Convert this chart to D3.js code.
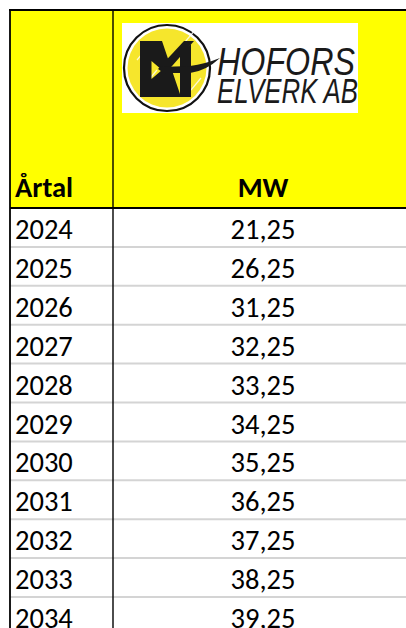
<!DOCTYPE html>
<html>
<head>
<meta charset="utf-8">
<script src="https://cdn.jsdelivr.net/npm/d3@7"></script>
<style>
  html, body { margin: 0; padding: 0; background: #fff; overflow: hidden; }
  svg { display: block; }
</style>
</head>
<body>
<svg id="table"></svg>
<script>
const width = 406, height = 628;

// table content
const headers = ["Årtal", "MW"];
const years = [2024, 2025, 2026, 2027, 2028, 2029, 2030, 2031, 2032, 2033, 2034];
const mw = [21.25, 26.25, 31.25, 32.25, 33.25, 34.25, 35.25, 36.25, 37.25, 38.25, 39.25];
const logoLines = ["HOFORS", "ELVERK AB"];

const font = "Carlito, Calibri, Lato, 'Open Sans', sans-serif";
const sv = d3.formatLocale({ decimal: ",", thousands: " ", grouping: [3], currency: ["", " kr"] });
const fmt = sv.format(".2f");

const tLeft = 10, colSplit = 113, tRight = 413;
const tTop = 10, headerBottom = 208, rowH = 38.9;
const fs = 28.5;

const svg = d3.select("#table")
    .attr("width", width)
    .attr("height", height);

// row scale
const y = d3.scaleBand()
    .domain(years)
    .range([headerBottom, headerBottom + rowH * years.length])
    .padding(0);

// header background
svg.append("rect")
    .attr("x", tLeft).attr("y", tTop)
    .attr("width", tRight - tLeft).attr("height", headerBottom - tTop)
    .attr("fill", "#ffff00");

// gridlines between rows
svg.append("g")
    .selectAll("line")
    .data(years)
    .join("line")
    .attr("x1", tLeft).attr("x2", tRight)
    .attr("y1", d => y(d) + y.bandwidth())
    .attr("y2", d => y(d) + y.bandwidth())
    .attr("stroke", "#d4d4d4")
    .attr("stroke-width", 2);

// borders
svg.append("line")
    .attr("x1", tLeft - 1).attr("x2", tRight)
    .attr("y1", tTop).attr("y2", tTop)
    .attr("stroke", "#000").attr("stroke-width", 2);
svg.append("line")
    .attr("x1", tLeft).attr("x2", tRight)
    .attr("y1", headerBottom).attr("y2", headerBottom)
    .attr("stroke", "#000").attr("stroke-width", 2);
svg.append("line")
    .attr("x1", tLeft).attr("x2", tLeft)
    .attr("y1", tTop).attr("y2", height)
    .attr("stroke", "#000").attr("stroke-width", 1.8);
svg.append("line")
    .attr("x1", colSplit).attr("x2", colSplit)
    .attr("y1", tTop).attr("y2", height)
    .attr("stroke", "#000").attr("stroke-width", 1.4);

// header labels
svg.append("text")
    .attr("x", 15).attr("y", 197)
    .attr("font-family", font).attr("font-weight", "bold")
    .attr("font-size", fs)
    .text(headers[0]);
svg.append("text")
    .attr("x", (colSplit + tRight) / 2).attr("y", 197)
    .attr("text-anchor", "middle")
    .attr("font-family", font).attr("font-weight", "bold")
    .attr("font-size", fs)
    .text(headers[1]);

// data rows
const rows = svg.append("g")
    .selectAll("g")
    .data(years.map((yr, i) => ({ yr, v: mw[i] })))
    .join("g")
    .attr("transform", d => `translate(0,${y(d.yr)})`);

rows.append("text")
    .attr("x", 15).attr("y", 31)
    .attr("font-family", font).attr("font-size", fs)
    .text(d => d.yr);

rows.append("text")
    .attr("x", (colSplit + tRight) / 2).attr("y", 31)
    .attr("text-anchor", "middle")
    .attr("font-family", font).attr("font-size", fs)
    .text(d => fmt(d.v));

// logo
const logo = svg.append("g");
logo.append("rect")
    .attr("x", 122).attr("y", 23)
    .attr("width", 236).attr("height", 90)
    .attr("fill", "#fff");
logo.append("circle")
    .attr("cx", 167).attr("cy", 68).attr("r", 43)
    .attr("fill", "#fff").attr("stroke", "#111").attr("stroke-width", 2.2);
logo.append("circle")
    .attr("cx", 167).attr("cy", 68).attr("r", 39.5)
    .attr("fill", "#f6e62c");
// white streaks in the disc
logo.append("g")
    .selectAll("line")
    .data([[-30, -8], [-20, 14], [18, -26], [24, 22]])
    .join("line")
    .attr("x1", d => 167 + d[0]).attr("y1", d => 68 + d[1])
    .attr("x2", d => 167 + d[0] + 10).attr("y2", d => 68 + d[1] - 12)
    .attr("stroke", "#fff").attr("stroke-width", 1.2).attr("opacity", 0.8);
// monogram
logo.append("path")
    .attr("d", "M140,41 L162,41 L181,97 L140,97 Z M151.5,61 L151.5,79 L162,70 Z")
    .attr("fill-rule", "evenodd")
    .attr("fill", "#1a1a1a");
logo.append("path")
    .attr("d", "M184,41 L194,41 L165,74 L158,69 Z")
    .attr("fill", "#1a1a1a");
logo.append("path")
    .attr("d", "M180,55 L191,44 L191,97 L180,97 Z")
    .attr("fill", "#1a1a1a");
logo.append("path")
    .attr("d", "M160,67 L190,66 Q205,64 220,58 Q206,71 190,73 L162,73 Z")
    .attr("fill", "#1a1a1a");

logo.selectAll("text.brand")
    .data(logoLines)
    .join("text")
    .attr("class", "brand")
    .attr("x", 217)
    .attr("y", (d, i) => i === 0 ? 75 : 103)
    .attr("font-family", "'Liberation Sans Narrow', 'Liberation Sans', sans-serif")
    .attr("font-style", "italic")
    .attr("font-size", (d, i) => i === 0 ? 38 : 35)
    .attr("textLength", (d, i) => i === 0 ? 138 : 141)
    .attr("lengthAdjust", "spacingAndGlyphs")
    .attr("fill", "#1a1a1a")
    .text(d => d);
</script>
</body>
</html>
